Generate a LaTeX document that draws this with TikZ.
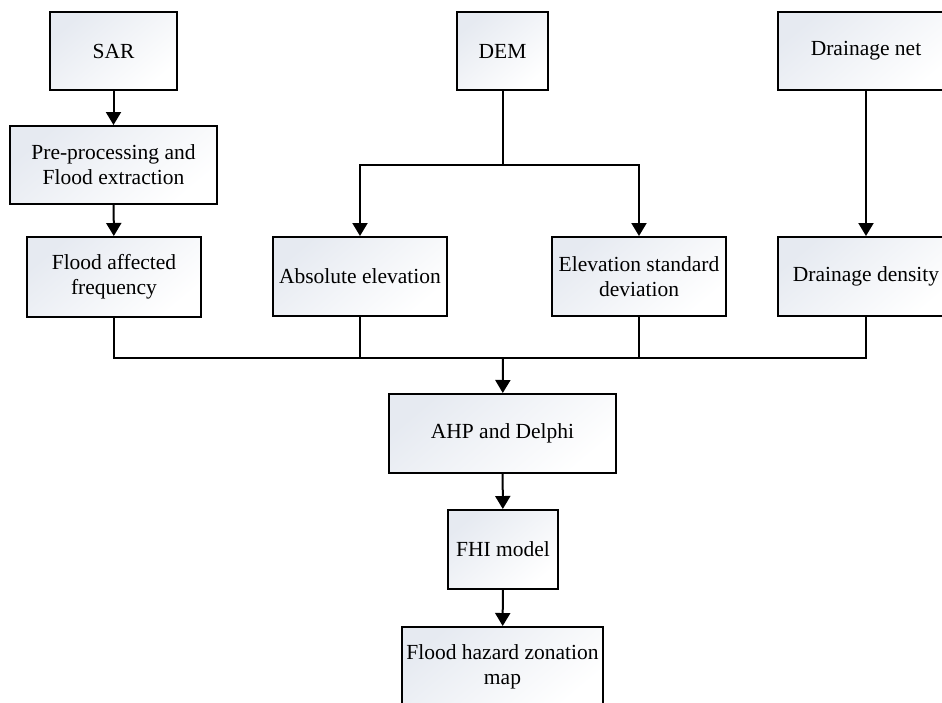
\documentclass[tikz,border=0pt]{standalone}
\usepackage{fontspec}
\setmainfont{Liberation Serif}
\usetikzlibrary{arrows.meta}
\definecolor{boxfill}{RGB}{230,234,241}
\tikzset{
  box/.style={draw=black, line width=2pt, top color=boxfill, bottom color=white, shading angle=40,
    align=center, inner sep=0pt, font=\fontsize{21.5}{25}\selectfont},
  conn/.style={line width=2pt},
  arr/.style={line width=2pt, -{Triangle[width=15pt,length=13pt]}}
}
\begin{document}
\begin{tikzpicture}[x=1pt,y=1pt]
\useasboundingbox (0,0) rectangle (942,-702);
\clip (0,0) rectangle (942,-702);
\node[box, minimum width=127pt, minimum height=78pt] (sar) at (113.5,-51) {SAR};
\node[box, minimum width=207pt, minimum height=78pt] (pre) at (113.5,-165) {Pre-processing and\\Flood extraction};
\node[box, minimum width=174pt, minimum height=80pt] (faf) at (114,-277) {Flood affected\\frequency};
\node[box, minimum width=91pt, minimum height=78pt] (dem) at (502.5,-51) {DEM};
\node[box, minimum width=174pt, minimum height=79pt] (abs) at (360,-276.5) {Absolute elevation};
\node[box, minimum width=174pt, minimum height=79pt] (esd) at (639,-276.5) {Elevation standard\\deviation};
\node[box, minimum width=176pt, minimum height=78pt] (dnet) at (866,-51) {Drainage net};
\node[box, minimum width=176pt, minimum height=79pt] (dden) at (866,-276.5) {Drainage density};
\node[box, minimum width=227pt, minimum height=79pt] (ahp) at (502.5,-433.5) {AHP and Delphi};
\node[box, minimum width=110pt, minimum height=79pt] (fhi) at (503,-549.5) {FHI model};
\node[box, minimum width=201pt, minimum height=79pt] (fhz) at (502.5,-666.5) {Flood hazard zonation\\map};
\coordinate (split) at (502.5,-165);
\coordinate (bus) at (503,-358);
\draw[arr] (sar) -- (pre);
\draw[arr] (pre) -- (faf);
\draw[conn] (dem) -- (split);
\draw[arr] (split) -| (abs);
\draw[arr] (split) -| (esd);
\draw[arr] (dnet) -- (dden);
\draw[conn] (faf.south) |- (bus);
\draw[conn] (abs.south) |- (bus);
\draw[conn] (esd.south) |- (bus);
\draw[conn] (dden.south) |- (bus);
\draw[arr] (bus) -- (ahp);
\draw[arr] (ahp) -- (fhi);
\draw[arr] (fhi) -- (fhz);
\end{tikzpicture}
\end{document}
